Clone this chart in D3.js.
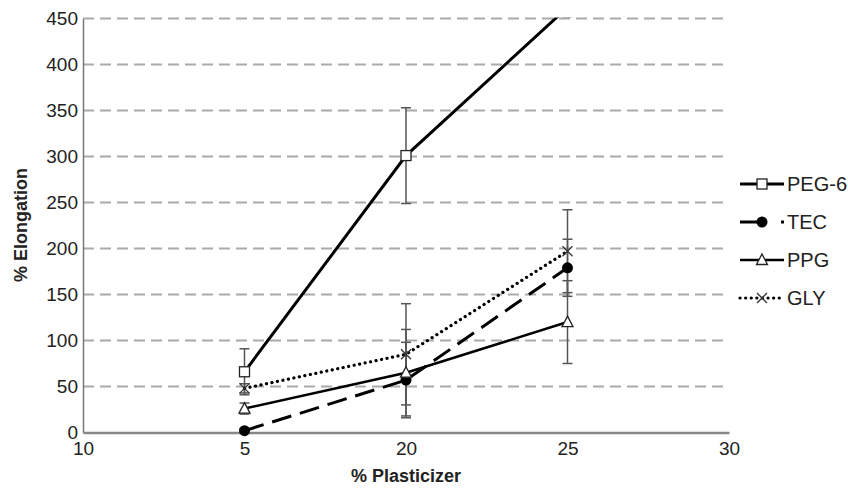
<!DOCTYPE html>
<html>
<head>
<meta charset="utf-8">
<script src="https://cdn.jsdelivr.net/npm/d3@7"></script>
<style>
  body { margin: 0; background: #fff; }
  svg text { font-family: "Liberation Sans", Arial, sans-serif; fill: #222; }
</style>
</head>
<body>
<svg id="chart" width="848" height="488"></svg>
<script>
// DATA
var xLabels = ["10", "5", "20", "25", "30"];
var xPoints = ["5", "20", "25"];
var yTicks = [0, 50, 100, 150, 200, 250, 300, 350, 400, 450];

var peg6 = [66, 301, 462];
var peg6Err = [25, 52, 10];
var tec = [2, 57, 179];
var tecErr = [2, 41, 31];
var ppg = [26, 65, 120];
var ppgErr = [6, 47, 45];
var gly = [48, 85, 197];
var glyErr = [5, 55, 45];

var seriesNames = ["PEG-6", "TEC", "PPG", "GLY"];

// SETUP
var svg = d3.select("#chart");
var plotLeft = 83, plotRight = 729, plotTop = 18.5, plotBottom = 432.5;

var x = d3.scalePoint().domain(xLabels).range([plotLeft, plotRight]);
var y = d3.scaleLinear().domain([0, 450]).range([plotBottom, plotTop]);

svg.append("defs").append("clipPath").attr("id", "plotclip")
  .append("rect").attr("x", 0).attr("y", plotTop - 1).attr("width", 848).attr("height", 488);

// grid
svg.append("g").selectAll("line")
  .data(yTicks.filter(function(d) { return d > 0; }))
  .enter().append("line")
    .attr("x1", plotLeft).attr("x2", plotRight)
    .attr("y1", function(d) { return y(d); })
    .attr("y2", function(d) { return y(d); })
    .style("stroke", "#aaa")
    .style("stroke-width", 2)
    .style("stroke-dasharray", "11,6");

// axes
var yAxis = svg.append("g")
  .attr("transform", "translate(" + plotLeft + ",0)")
  .call(d3.axisLeft(y).tickValues(yTicks).tickSize(0).tickPadding(5));
yAxis.select(".domain").style("stroke", "#777").style("stroke-width", 1.5);
yAxis.selectAll("text").style("font-size", "19px").attr("fill", "#222")
  .style("font-family", "Liberation Sans, Arial, sans-serif");

var xAxis = svg.append("g")
  .attr("transform", "translate(0," + plotBottom + ")")
  .call(d3.axisBottom(x).tickSize(0).tickPadding(9));
xAxis.select(".domain").style("stroke", "#888").style("stroke-width", 2.5);
xAxis.selectAll("text").style("font-size", "19px").attr("fill", "#222")
  .style("font-family", "Liberation Sans, Arial, sans-serif");

// axis titles
svg.append("text")
  .attr("transform", "translate(27,225) rotate(-90)")
  .attr("text-anchor", "middle")
  .style("font-size", "18px").style("font-weight", "bold")
  .text("% Elongation");

svg.append("text")
  .attr("x", 406).attr("y", 482)
  .attr("text-anchor", "middle")
  .style("font-size", "18px").style("font-weight", "bold")
  .text("% Plasticizer");

// build series
function rows(vals, errs) {
  return xPoints.map(function(k, i) { return { k: k, v: vals[i], e: errs[i] }; });
}
var series = [
  { name: "PEG-6", data: rows(peg6, peg6Err), dash: null, width: 3, marker: "square" },
  { name: "TEC", data: rows(tec, tecErr), dash: "20,9", width: 3, marker: "circle" },
  { name: "PPG", data: rows(ppg, ppgErr), dash: null, width: 2.6, marker: "triangle" },
  { name: "GLY", data: rows(gly, glyErr), dash: "0.1,5.5", width: 3.2, marker: "cross" }
];

var plot = svg.append("g").attr("clip-path", "url(#plotclip)");

// error bars
series.forEach(function(s) {
  var g = plot.append("g");
  s.data.forEach(function(d) {
    var cx = x(d.k);
    g.append("line")
      .attr("x1", cx).attr("x2", cx)
      .attr("y1", y(d.v - d.e)).attr("y2", y(d.v + d.e))
      .style("stroke", "#555").style("stroke-width", 1.5);
    [d.v - d.e, d.v + d.e].forEach(function(c) {
      g.append("line")
        .attr("x1", cx - 5).attr("x2", cx + 5)
        .attr("y1", y(c)).attr("y2", y(c))
        .style("stroke", "#555").style("stroke-width", 1.5);
    });
  });
});

// lines
var line = d3.line().x(function(d) { return x(d.k); }).y(function(d) { return y(d.v); });
series.forEach(function(s) {
  plot.append("path")
    .datum(s.data)
    .attr("d", line)
    .style("fill", "none")
    .style("stroke", "#000")
    .style("stroke-width", s.width)
    .style("stroke-linecap", s.name === "GLY" ? "round" : "butt")
    .style("stroke-dasharray", s.dash);
});

// markers
function drawMarker(g, type, cx, cy) {
  if (type === "square") {
    g.append("rect").attr("x", cx - 5).attr("y", cy - 5).attr("width", 10).attr("height", 10)
      .style("fill", "#fff").style("stroke", "#222").style("stroke-width", 1.3);
  } else if (type === "circle") {
    g.append("circle").attr("cx", cx).attr("cy", cy).attr("r", 5.5).style("fill", "#000");
  } else if (type === "triangle") {
    g.append("path")
      .attr("d", "M" + cx + "," + (cy - 6) + "L" + (cx + 5.5) + "," + (cy + 4.5) + "L" + (cx - 5.5) + "," + (cy + 4.5) + "Z")
      .style("fill", "#fff").style("stroke", "#222").style("stroke-width", 1.3);
  } else {
    g.append("path")
      .attr("d", "M" + (cx - 5) + "," + (cy - 5) + "L" + (cx + 5) + "," + (cy + 5) +
                 "M" + (cx - 5) + "," + (cy + 5) + "L" + (cx + 5) + "," + (cy - 5))
      .style("stroke", "#333").style("stroke-width", 1.3);
  }
}
series.forEach(function(s) {
  var g = plot.append("g");
  s.data.forEach(function(d) { drawMarker(g, s.marker, x(d.k), y(d.v)); });
});

// legend
var legend = svg.append("g");
series.forEach(function(s, i) {
  var ly = 184 + i * 38;
  legend.append("line")
    .attr("x1", 740).attr("x2", 784).attr("y1", ly).attr("y2", ly)
    .style("stroke", "#000")
    .style("stroke-width", s.width)
    .style("stroke-linecap", s.name === "GLY" ? "round" : "butt")
    .style("stroke-dasharray", s.name === "TEC" ? "24,17" : s.dash);
  drawMarker(legend, s.marker, 762, ly);
  legend.append("text")
    .attr("x", 787).attr("y", ly + 7)
    .style("font-size", "20px")
    .text(seriesNames[i]);
});
</script>
</body>
</html>
